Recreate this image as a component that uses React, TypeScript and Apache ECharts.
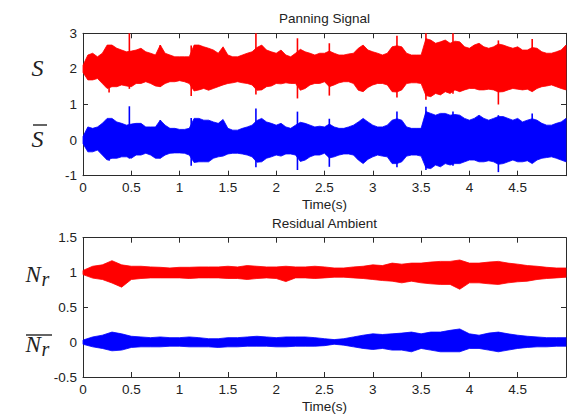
import React, { useEffect, useRef } from "react";
import * as echarts from "echarts";

// ---------- data ----------
// Sample times (s)
const TIME_TOP = Array.from({ length: 101 }, (_, i) => Math.round(i * 5) / 100);
const TIME_BOTTOM = Array.from({ length: 51 }, (_, i) => Math.round(i * 10) / 100);

// Signal offsets (centre lines)
const S_CENTER = 2;
const SBAR_CENTER = 0;
const NR_CENTER = 1;
const NRBAR_CENTER = 0;

// Panning signal S: envelope above / below centre
const S_UP = [
  0.10, 0.39, 0.44, 0.34, 0.44, 0.67, 0.67, 0.58, 0.53, 0.48,
  0.50, 0.53, 0.58, 0.48, 0.44, 0.39, 0.67, 0.44, 0.39, 0.34,
  0.34, 0.34, 0.34, 0.67, 0.67, 0.62, 0.58, 0.53, 0.44, 0.62,
  0.39, 0.34, 0.34, 0.39, 0.44, 0.48, 0.60, 0.67, 0.53, 0.48,
  0.44, 0.53, 0.39, 0.34, 0.44, 0.55, 0.48, 0.44, 0.39, 0.44,
  0.44, 0.50, 0.44, 0.39, 0.39, 0.42, 0.44, 0.58, 0.67, 0.53,
  0.48, 0.44, 0.39, 0.44, 0.62, 0.65, 0.62, 0.44, 0.39, 0.39,
  0.39, 0.85, 0.81, 0.72, 0.76, 0.81, 0.72, 0.78, 0.76, 0.62,
  0.58, 0.67, 0.72, 0.62, 0.58, 0.62, 0.70, 0.67, 0.62, 0.58,
  0.62, 0.53, 0.53, 0.60, 0.58, 0.48, 0.44, 0.44, 0.48, 0.53,
  0.67,
];
const S_LO = [
  0.10, 0.31, 0.31, 0.27, 0.41, 0.55, 0.50, 0.50, 0.45, 0.48,
  0.50, 0.41, 0.41, 0.36, 0.41, 0.48, 0.50, 0.41, 0.36, 0.36,
  0.33, 0.36, 0.41, 0.62, 0.59, 0.55, 0.60, 0.55, 0.50, 0.45,
  0.41, 0.39, 0.36, 0.39, 0.41, 0.45, 0.60, 0.59, 0.50, 0.48,
  0.41, 0.42, 0.39, 0.41, 0.41, 0.60, 0.55, 0.45, 0.41, 0.41,
  0.36, 0.50, 0.45, 0.39, 0.36, 0.36, 0.41, 0.60, 0.64, 0.52,
  0.45, 0.41, 0.41, 0.45, 0.64, 0.65, 0.59, 0.41, 0.39, 0.39,
  0.41, 0.75, 0.78, 0.69, 0.73, 0.64, 0.69, 0.59, 0.64, 0.59,
  0.55, 0.55, 0.59, 0.59, 0.57, 0.59, 0.65, 0.64, 0.59, 0.55,
  0.57, 0.59, 0.57, 0.64, 0.55, 0.50, 0.48, 0.45, 0.50, 0.55,
  0.59,
];

// Panning signal S-bar
const SBAR_UP = [
  0.10, 0.37, 0.33, 0.37, 0.47, 0.61, 0.61, 0.51, 0.47, 0.42,
  0.45, 0.47, 0.47, 0.37, 0.37, 0.37, 0.56, 0.42, 0.33, 0.33,
  0.30, 0.30, 0.33, 0.61, 0.61, 0.56, 0.56, 0.51, 0.47, 0.58,
  0.33, 0.28, 0.28, 0.33, 0.37, 0.42, 0.55, 0.61, 0.51, 0.47,
  0.42, 0.47, 0.37, 0.33, 0.42, 0.50, 0.47, 0.42, 0.37, 0.39,
  0.37, 0.45, 0.37, 0.33, 0.33, 0.37, 0.42, 0.51, 0.61, 0.51,
  0.42, 0.37, 0.37, 0.42, 0.56, 0.60, 0.56, 0.37, 0.33, 0.33,
  0.33, 0.80, 0.75, 0.70, 0.75, 0.75, 0.70, 0.72, 0.70, 0.61,
  0.56, 0.61, 0.70, 0.61, 0.56, 0.61, 0.66, 0.66, 0.61, 0.56,
  0.61, 0.51, 0.56, 0.60, 0.56, 0.47, 0.42, 0.42, 0.47, 0.51,
  0.61,
];
const SBAR_LO = [
  0.10, 0.33, 0.33, 0.28, 0.42, 0.56, 0.51, 0.51, 0.47, 0.47,
  0.51, 0.42, 0.42, 0.37, 0.42, 0.51, 0.51, 0.42, 0.37, 0.36,
  0.36, 0.37, 0.42, 0.63, 0.61, 0.61, 0.61, 0.51, 0.47, 0.45,
  0.39, 0.37, 0.37, 0.39, 0.42, 0.47, 0.62, 0.61, 0.51, 0.47,
  0.42, 0.45, 0.39, 0.39, 0.42, 0.60, 0.56, 0.47, 0.42, 0.42,
  0.37, 0.50, 0.47, 0.42, 0.39, 0.39, 0.42, 0.56, 0.66, 0.54,
  0.47, 0.42, 0.45, 0.47, 0.66, 0.66, 0.61, 0.45, 0.42, 0.42,
  0.45, 0.78, 0.80, 0.70, 0.75, 0.66, 0.70, 0.66, 0.66, 0.61,
  0.56, 0.56, 0.61, 0.61, 0.58, 0.61, 0.68, 0.66, 0.61, 0.56,
  0.61, 0.61, 0.58, 0.66, 0.56, 0.51, 0.49, 0.47, 0.51, 0.56,
  0.61,
];

// Narrow transients of the panning signals (time, reach above / below centre)
const SPIKE_T = [0.27, 0.48, 0.8, 1.12, 1.79, 2.22, 2.55, 3.25, 3.55, 3.83, 4.3, 4.65];
const S_SPIKE_UP = [0.6, 1.0, 0.67, 0.66, 1.0, 0.86, 0.72, 0.93, 1.0, 1.0, 0.8, 0.84];
const S_SPIKE_LO = [0.66, 0.56, 0.5, 0.76, 0.72, 0.83, 0.75, 0.8, 0.87, 0.7, 1.0, 0.6];
const SBAR_SPIKE_UP = [0.55, 0.95, 0.56, 0.62, 0.89, 0.8, 0.6, 0.8, 0.94, 0.8, 0.7, 0.75];
const SBAR_SPIKE_LO = [0.58, 0.52, 0.51, 0.72, 0.76, 0.84, 0.75, 0.76, 0.84, 0.72, 0.9, 0.62];

// Residual ambient N_r
const NR_UP = [
  0.03, 0.09, 0.11, 0.17, 0.11, 0.09, 0.09, 0.08, 0.075, 0.065,
  0.075, 0.075, 0.08, 0.08, 0.08, 0.09, 0.08, 0.10, 0.09, 0.08,
  0.08, 0.09, 0.08, 0.08, 0.09, 0.08, 0.065, 0.065, 0.08, 0.09,
  0.11, 0.10, 0.135, 0.12, 0.135, 0.135, 0.15, 0.16, 0.16, 0.18,
  0.135, 0.135, 0.15, 0.16, 0.135, 0.12, 0.10, 0.09, 0.075, 0.065,
  0.065,
];
const NR_LO = [
  0.03, 0.08, 0.10, 0.15, 0.21, 0.10, 0.086, 0.077, 0.077, 0.077,
  0.077, 0.086, 0.077, 0.077, 0.077, 0.086, 0.086, 0.10, 0.086, 0.077,
  0.086, 0.13, 0.077, 0.077, 0.086, 0.077, 0.067, 0.067, 0.077, 0.086,
  0.10, 0.115, 0.124, 0.148, 0.124, 0.148, 0.162, 0.171, 0.171, 0.24,
  0.148, 0.148, 0.162, 0.171, 0.148, 0.133, 0.124, 0.10, 0.086, 0.077,
  0.067,
];

// Residual ambient N_r-bar
const NRBAR_UP = [
  0.03, 0.075, 0.10, 0.145, 0.12, 0.085, 0.075, 0.065, 0.075, 0.065,
  0.065, 0.075, 0.065, 0.05, 0.05, 0.065, 0.065, 0.075, 0.085, 0.075,
  0.065, 0.075, 0.075, 0.075, 0.065, 0.05, 0.037, 0.05, 0.075, 0.10,
  0.12, 0.11, 0.12, 0.13, 0.145, 0.12, 0.145, 0.145, 0.17, 0.19,
  0.12, 0.10, 0.13, 0.145, 0.12, 0.10, 0.085, 0.075, 0.065, 0.065,
  0.065,
];
const NRBAR_LO = [
  0.03, 0.067, 0.09, 0.124, 0.114, 0.076, 0.067, 0.067, 0.067, 0.058,
  0.058, 0.067, 0.067, 0.067, 0.076, 0.067, 0.067, 0.058, 0.058, 0.058,
  0.067, 0.067, 0.058, 0.058, 0.058, 0.05, 0.03, 0.043, 0.067, 0.09,
  0.105, 0.09, 0.114, 0.114, 0.138, 0.09, 0.114, 0.138, 0.138, 0.138,
  0.09, 0.09, 0.114, 0.138, 0.114, 0.09, 0.076, 0.067, 0.067, 0.058,
  0.058,
];

const TITLES = ["Panning Signal", "Residual Ambient"];
const X_NAME = "Time(s)";

// ---------- styling ----------
const RED = "#ff0000";
const BLUE = "#0000ff";
const AXIS = "#2b2b2b";
const TXT = "#222222";
const SANS = '"Liberation Sans", Arial, sans-serif';
const SERIF = '"Liberation Serif", "Times New Roman", serif';
const FS = 13.5;

// Envelope band drawn as one polygon through the cartesian coordinate system
function band(
  name: string,
  times: number[],
  center: number,
  up: number[],
  lo: number[],
  color: string,
  gridIndex: number
) {
  const data = times.map((t, i) => [t, center + up[i], center - lo[i]]);
  return {
    type: "custom",
    name,
    xAxisIndex: gridIndex * 2,
    yAxisIndex: gridIndex * 2,
    silent: true,
    z: 2,
    encode: { x: 0, y: [1, 2] },
    data,
    renderItem: (params: any, api: any) => {
      if (params.dataIndex !== 0) return null;
      const pts: number[][] = [];
      for (let i = 0; i < data.length; i++) pts.push(api.coord([data[i][0], data[i][1]]));
      for (let i = data.length - 1; i >= 0; i--) pts.push(api.coord([data[i][0], data[i][2]]));
      return {
        type: "polygon",
        shape: { points: pts },
        style: { fill: color, stroke: color, lineWidth: 0.8, lineJoin: "miter" },
      };
    },
  };
}

// Thin vertical transients
function spikes(
  name: string,
  times: number[],
  center: number,
  up: number[],
  lo: number[],
  color: string,
  gridIndex: number
) {
  return {
    type: "custom",
    name,
    xAxisIndex: gridIndex * 2,
    yAxisIndex: gridIndex * 2,
    silent: true,
    z: 3,
    encode: { x: 0, y: [1, 2] },
    data: times.map((t, i) => [t, center + up[i], center - lo[i]]),
    renderItem: (_params: any, api: any) => {
      const a = api.coord([api.value(0), api.value(1)]);
      const b = api.coord([api.value(0), api.value(2)]);
      return {
        type: "line",
        shape: { x1: a[0], y1: a[1], x2: b[0], y2: b[1] },
        style: { stroke: color, lineWidth: 1.6 },
      };
    },
  };
}

function xAxes(gridIndex: number) {
  const common = {
    type: "value",
    gridIndex,
    min: 0,
    max: 5,
    interval: 0.5,
    splitLine: { show: false },
    axisLine: { show: true, onZero: false, lineStyle: { color: AXIS, width: 1 } },
    axisTick: { show: true, inside: true, length: 5, lineStyle: { color: AXIS, width: 1 } },
  };
  return [
    {
      ...common,
      position: "bottom",
      name: X_NAME,
      nameLocation: "middle",
      nameGap: 22,
      nameTextStyle: { color: TXT, fontSize: FS, fontFamily: SANS },
      axisLabel: {
        show: true,
        margin: 5,
        color: TXT,
        fontSize: FS,
        fontFamily: SANS,
        showMaxLabel: false,
        formatter: (v: number) => (v >= 5 ? "" : String(v)),
      },
    },
    { ...common, position: "top", axisLabel: { show: false } },
  ];
}

function yAxes(gridIndex: number, min: number, max: number, interval: number) {
  const common = {
    type: "value",
    gridIndex,
    min,
    max,
    interval,
    splitLine: { show: false },
    axisLine: { show: true, onZero: false, lineStyle: { color: AXIS, width: 1 } },
    axisTick: { show: true, inside: true, length: 5, lineStyle: { color: AXIS, width: 1 } },
  };
  return [
    {
      ...common,
      position: "left",
      axisLabel: { show: true, margin: 6, color: TXT, fontSize: FS, fontFamily: SANS },
    },
    { ...common, position: "right", axisLabel: { show: false } },
  ];
}

function txt(text: string, x: number, y: number, font: string, align = "left") {
  return {
    type: "text",
    x,
    y,
    silent: true,
    style: {
      text,
      font,
      fill: TXT,
      align,
      verticalAlign: "middle",
      textAlign: align,
      textVerticalAlign: "middle",
    },
  };
}

function bar(x1: number, x2: number, y: number) {
  return {
    type: "line",
    silent: true,
    shape: { x1, y1: y, x2, y2: y },
    style: { stroke: "#111", lineWidth: 1.3 },
  };
}

export default function App() {
  const ref = useRef<HTMLDivElement>(null);

  useEffect(() => {
    if (!ref.current) return;
    const chart = echarts.init(ref.current, undefined, { renderer: "svg" });
    const mathFont = `italic 24px ${SERIF}`;
    const mathFontN = `italic 23px ${SERIF}`;
    const subFont = `italic 20px ${SERIF}`;

    chart.setOption({
      animation: false,
      backgroundColor: "#ffffff",
      grid: [
        { left: 83, right: 3, top: 33.3, height: 142.4 },
        { left: 83, right: 3, top: 237.7, height: 141.3 },
      ],
      xAxis: [...xAxes(0), ...xAxes(1)],
      yAxis: [...yAxes(0, -1, 3, 1), ...yAxes(1, -0.5, 1.5, 0.5)],
      series: [
        band("S", TIME_TOP, S_CENTER, S_UP, S_LO, RED, 0),
        spikes("S transients", SPIKE_T, S_CENTER, S_SPIKE_UP, S_SPIKE_LO, RED, 0),
        band("S-bar", TIME_TOP, SBAR_CENTER, SBAR_UP, SBAR_LO, BLUE, 0),
        spikes("S-bar transients", SPIKE_T, SBAR_CENTER, SBAR_SPIKE_UP, SBAR_SPIKE_LO, BLUE, 0),
        band("N_r", TIME_BOTTOM, NR_CENTER, NR_UP, NR_LO, RED, 1),
        band("N_r-bar", TIME_BOTTOM, NRBAR_CENTER, NRBAR_UP, NRBAR_LO, BLUE, 1),
      ],
      graphic: [
        txt(TITLES[0], 324.5, 18.5, `${FS}px ${SANS}`, "center"),
        txt(TITLES[1], 324.5, 223, `${FS}px ${SANS}`, "center"),
        txt("S", 31.5, 68, mathFont),
        txt("S", 31.5, 139, mathFont),
        bar(33, 47, 125),
        txt("N", 25.5, 274, mathFontN),
        txt("r", 41.5, 278.5, subFont),
        txt("N", 25.5, 344.5, mathFontN),
        txt("r", 41.5, 349, subFont),
        bar(26, 52, 335),
      ],
    });
    return () => chart.dispose();
  }, []);

  return (
    <div
      ref={ref}
      style={{ position: "fixed", left: 0, top: 0, width: 569, height: 414, background: "#fff" }}
    />
  );
}
